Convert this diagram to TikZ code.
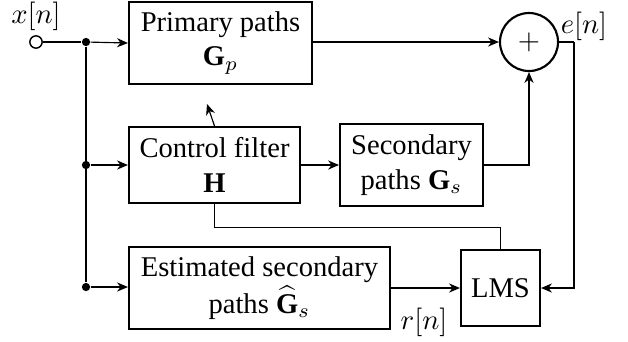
\documentclass[tikz,border=0pt]{standalone}
\usepackage{amsmath}
\usepackage{fontspec}
\setmainfont{Liberation Serif}
\usetikzlibrary{arrows.meta}
\begin{document}
\begin{tikzpicture}[x=0.35pt,y=-0.35pt,
  every node/.style={font=\fontsize{10}{12}\selectfont},
  blk/.style={draw, line width=0.75pt, align=center, inner sep=0pt},
  con/.style={line width=0.4pt},
  arr/.style={con, -{Stealth[length=3.8pt,width=3.2pt,inset=1.2pt]}},
  jdot/.style={circle, fill, inner sep=0pt, minimum size=2.9pt}]
\useasboundingbox (0,0) rectangle (628,341);
% blocks
\node[blk, minimum width=64.05pt, minimum height=28.7pt] (prim) at (220.5,43) {Primary paths\\ $\mathbf{G}_p$};
\node[blk, minimum width=59.85pt, minimum height=26.6pt] (ctrl) at (214.5,165) {Control filter\\ $\mathbf{H}$};
\node[blk, minimum width=50pt, minimum height=28.7pt] (sec) at (411.5,165) {Secondary\\ paths $\mathbf{G}_s$};
\node[blk, minimum width=91.35pt, minimum height=28.7pt] (est) at (259.5,288) {Estimated secondary\\[1pt] paths $\widehat{\mathbf{G}}_s$};
\node[blk, minimum width=27.65pt, minimum height=26.6pt] (lms) at (500.5,288) {LMS};
\node[draw, circle, line width=0.75pt, inner sep=0pt, minimum size=20.3pt] (sum) at (529,42) {$+$};
% input
\node[draw, circle, line width=0.5pt, inner sep=0pt, minimum size=4.3pt] (xin) at (36,42) {};
\node (xl) at (36,16) {$x[n]$};
\node[jdot] (j1) at (86,42) {};
\node[jdot] (j2) at (86,165) {};
\node[jdot] (j3) at (86,287) {};
\coordinate (adj) at (207,104);
\coordinate (rt) at (574,42);
\node (el) at (584,26) {$e[n]$};
\node (rl) at (424,322) {$r[n]$};
% connectors
\draw[con] (xin.east) -- (j1);
\draw[con] (j1) -- (j3);
\draw[arr] (j1) -- (prim.west);
\draw[arr] (j2) -- (ctrl.west);
\draw[arr] (j3) -- (est.west |- j3);
\draw[arr] (prim.east |- sum) -- (sum.west);
\draw[arr] (ctrl.east) -- (sec.west);
\draw[arr] (sec.east) -| (sum.south);
\draw[arr] (ctrl.north) -- (adj);
\draw[con] (sum.east) -- (rt);
\draw[arr] (rt) |- (lms.east);
\draw[arr] (est.east) -- (lms.west);
\draw[con] (ctrl.south) -- ++(0,23) -| (lms.north);
\end{tikzpicture}
\end{document}
